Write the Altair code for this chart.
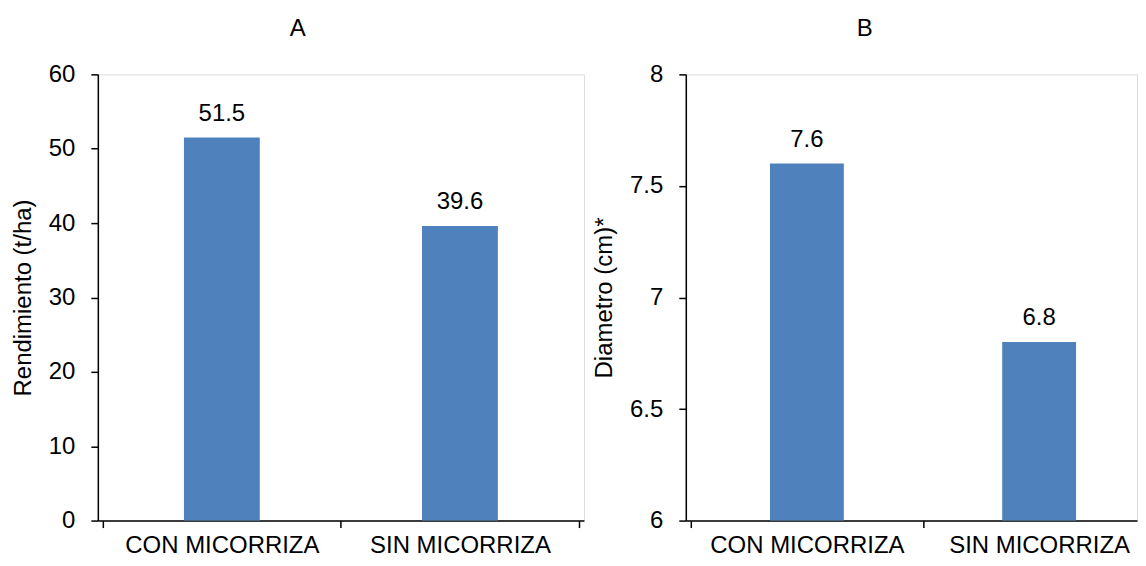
import altair as alt
import pandas as pd

categories = ["CON MICORRIZA", "SIN MICORRIZA"]
rendimiento = [51.5, 39.6]
diametro = [7.6, 6.8]
ticks_a = [0, 10, 20, 30, 40, 50, 60]
ticks_b = [6, 6.5, 7, 7.5, 8]

FONT = "Liberation Sans"
BLUE = "#4F81BD"
FS = 24

positions = [i + 0.5 for i in range(len(categories))]
df_a = pd.DataFrame({"cat": categories, "pos": positions, "val": rendimiento})
df_b = pd.DataFrame({"cat": categories, "pos": positions, "val": diametro})

label_expr = " : ".join(
    [f"datum.value == {p} ? '{c}'" for p, c in zip(positions, categories)] + ["''"])


def axis_common(**kw):
    return dict(
        domainColor="black", domainWidth=1.5, tickColor="black", tickWidth=1.5,
        tickSize=7, labelFont=FONT, labelFontSize=FS, labelColor="black",
        titleFont=FONT, titleFontSize=FS, titleColor="black", titleFontWeight="normal",
        grid=False, **kw)


def panel(df, title, ytitle, ydomain, tick_vals, width, xmax, barsize):
    base = alt.Chart(df)
    xvals = [v / 2 for v in range(int(xmax * 2) + 1)]
    x = alt.X("pos:Q", title=None,
              scale=alt.Scale(domain=[0, xmax], nice=False, zero=False),
              axis=alt.Axis(values=xvals, labelExpr=label_expr, labelAngle=0,
                            labelAlign="center", labelFlush=False, labelOverlap=False,
                            labelPadding=6, labelLimit=400,
                            tickOpacity={"condition": {"test": "datum.value % 1 != 0",
                                                       "value": 0}, "value": 1},
                            **axis_common()))
    y = alt.Y("val:Q", scale=alt.Scale(domain=ydomain, nice=False, zero=False),
              axis=alt.Axis(values=tick_vals, format="~r", title=ytitle,
                            labelPadding=16, titlePadding=13, **axis_common()))
    bars = base.mark_bar(color=BLUE, size=barsize).encode(
        x=x, y=y, y2=alt.datum(ydomain[0]))
    text = base.mark_text(dy=-17, baseline="alphabetic", fontSize=FS, font=FONT,
                          color="black").encode(
        x=x, y=y, text=alt.Text("val:Q", format=".1f"))
    return alt.layer(bars, text).properties(
        width=width, height=447,
        title=alt.TitleParams(title, font=FONT, fontSize=FS, fontWeight="normal",
                              color="black", anchor="middle", frame="bounds",
                              offset=21))


chart_a = panel(df_a, "A", "Rendimiento (t/ha)", [0, 60], ticks_a, 487, 2, 76)
chart_b = panel(df_b, "B", "Diametro (cm)*", [6, 8], ticks_b, 452, 1.9, 74)

chart = alt.hconcat(chart_a, chart_b, spacing=7).properties(
    padding={"left": 2, "top": 8, "right": 0, "bottom": 0}
).configure_view(stroke=None).configure(background="white")

chart.save("out.html", embed_options={"renderer": "svg", "actions": False})
